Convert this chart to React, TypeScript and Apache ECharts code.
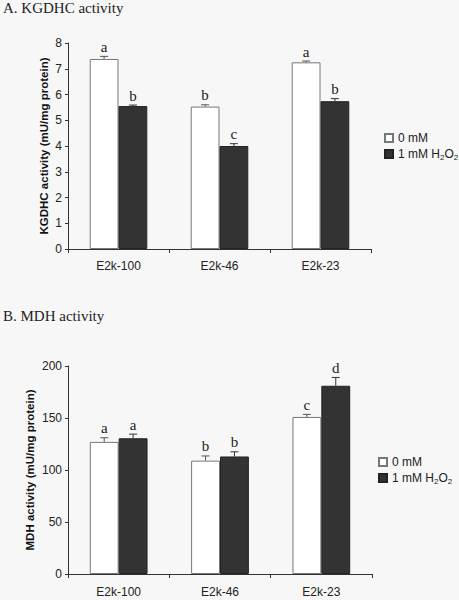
import React, { useEffect, useRef } from "react";
import * as echarts from "echarts";

const categories = ["E2k-100", "E2k-46", "E2k-23"];
const kgdhc0 = [7.38, 5.53, 7.25];
const kgdhc0Err = [0.1, 0.07, 0.05];
const kgdhc0Letters = ["a", "b", "a"];
const kgdhc1 = [5.55, 4.0, 5.74];
const kgdhc1Err = [0.04, 0.09, 0.1];
const kgdhc1Letters = ["b", "c", "b"];
const mdh0 = [127, 109, 151];
const mdh0Err = [4, 4.5, 2.5];
const mdh0Letters = ["a", "b", "c"];
const mdh1 = [130.5, 113, 181];
const mdh1Err = [4, 4.5, 8];
const mdh1Letters = ["a", "b", "d"];
const yTicksA = { min: 0, max: 8, interval: 1 };
const yTicksB = { min: 0, max: 200, interval: 50 };

const SANS = 'Arial, "Liberation Sans", sans-serif';
const SERIF = '"Times New Roman", "Liberation Serif", serif';
const GAP = 0.43;
const NAME0 = "0 mM";
const NAME1 = "1 mM H2O2";

function errSeries(values: number[], errs: number[], letters: string[], side: number, axis: number, color: string) {
  return {
    type: "custom",
    name: "err" + axis + side,
    xAxisIndex: axis,
    yAxisIndex: axis,
    z: 5,
    silent: true,
    data: values.map((v, i) => [i, v, v + errs[i]]),
    encode: { x: 0, y: 1 },
    renderItem: (params: any, api: any) => {
      const i = api.value(0);
      const band = api.size([1, 0])[0];
      const bw = (band * (1 - GAP)) / 2;
      const base = api.coord([i, api.value(1)]);
      const top = api.coord([i, api.value(2)]);
      const x = base[0] + side * bw / 2;
      return {
        type: "group",
        children: [
          { type: "line", shape: { x1: x, y1: base[1], x2: x, y2: top[1] }, style: { stroke: color, lineWidth: 1 } },
          { type: "line", shape: { x1: x - 4, y1: top[1], x2: x + 4, y2: top[1] }, style: { stroke: color, lineWidth: 1 } },
          {
            type: "text",
            x: x,
            y: top[1] - 2,
            style: { text: letters[params.dataIndex], fill: "#222", font: `15px ${SERIF}`, align: "center", verticalAlign: "bottom" },
          },
        ],
      };
    },
  };
}

export default function App() {
  const ref = useRef<HTMLDivElement>(null);
  useEffect(() => {
    if (!ref.current) return;
    const chart = echarts.init(ref.current, null, { renderer: "svg" });
    const axisLine = { lineStyle: { color: "#333", width: 1 } };
    const legendText = {
      fontFamily: SANS,
      fontSize: 12,
      color: "#222",
      rich: { sub: { fontSize: 8, fontFamily: SANS, color: "#222", padding: [6, 0, 0, 0] } },
    };
    const legendFormatter = (n: string) => (n === NAME1 ? "1 mM H{sub|2}O{sub|2}" : n);
    const xAxisBase = (gi: number, margin: number) => ({
      type: "category",
      gridIndex: gi,
      data: categories,
      axisLine,
      axisTick: { show: true, length: 4, lineStyle: { color: "#333" } },
      axisLabel: { color: "#222", fontFamily: SANS, fontSize: 12, margin },
    });
    const yAxisBase = (gi: number, t: any, name: string, gap: number) => ({
      type: "value",
      gridIndex: gi,
      min: t.min,
      max: t.max,
      interval: t.interval,
      splitLine: { show: false },
      axisLine: { show: true, ...axisLine },
      axisTick: { show: true, length: 3, lineStyle: { color: "#333" } },
      axisLabel: { color: "#222", fontFamily: SANS, fontSize: 12, margin: 6 },
      name,
      nameLocation: "middle",
      nameGap: gap,
      nameMoveOverlap: false,
      nameTextStyle: { fontFamily: SANS, fontSize: 11.5, fontWeight: "bold", color: "#111" },
    });
    const barWhite = { color: "#ffffff", borderColor: "#777", borderWidth: 1 };
    const barDark = { color: "#333333", borderColor: "#222", borderWidth: 1 };
    chart.setOption({
      animation: false,
      backgroundColor: "#f7f7f7",
      title: [
        { text: "A. KGDHC activity", left: 3, top: 0, padding: 0, textStyle: { fontFamily: SERIF, fontSize: 15, fontWeight: "normal", color: "#222" } },
        { text: "B. MDH activity", left: 3, top: 308, padding: 0, textStyle: { fontFamily: SERIF, fontSize: 15, fontWeight: "normal", color: "#222" } },
      ],
      legend: [
        {
          data: [NAME0, NAME1], orient: "vertical", left: 384, top: 132, padding: 0, itemGap: 4,
          icon: "rect", itemWidth: 8, itemHeight: 8, textStyle: legendText, formatter: legendFormatter, selectedMode: false,
        },
        {
          data: [NAME0, NAME1], orient: "vertical", left: 378, top: 456, padding: 0, itemGap: 4,
          icon: "rect", itemWidth: 8, itemHeight: 8, textStyle: legendText, formatter: legendFormatter, selectedMode: false,
        },
      ],
      grid: [
        { left: 68, right: 88, top: 43, height: 206 },
        { left: 68, right: 87, top: 366, height: 208 },
      ],
      xAxis: [xAxisBase(0, 11), xAxisBase(1, 12)],
      yAxis: [
        yAxisBase(0, yTicksA, "KGDHC activity (mU/mg protein)", 18),
        yAxisBase(1, yTicksB, "MDH activity (mU/mg protein)", 32),
      ],
      series: [
        { type: "bar", name: NAME0, xAxisIndex: 0, yAxisIndex: 0, data: kgdhc0, itemStyle: barWhite, barGap: "0%", barCategoryGap: "43%" },
        { type: "bar", name: NAME1, xAxisIndex: 0, yAxisIndex: 0, data: kgdhc1, itemStyle: barDark, barGap: "0%", barCategoryGap: "43%" },
        { type: "bar", name: NAME0, xAxisIndex: 1, yAxisIndex: 1, data: mdh0, itemStyle: barWhite, barGap: "0%", barCategoryGap: "43%" },
        { type: "bar", name: NAME1, xAxisIndex: 1, yAxisIndex: 1, data: mdh1, itemStyle: barDark, barGap: "0%", barCategoryGap: "43%" },
        errSeries(kgdhc0, kgdhc0Err, kgdhc0Letters, -1, 0, "#555"),
        errSeries(kgdhc1, kgdhc1Err, kgdhc1Letters, 1, 0, "#333"),
        errSeries(mdh0, mdh0Err, mdh0Letters, -1, 1, "#555"),
        errSeries(mdh1, mdh1Err, mdh1Letters, 1, 1, "#333"),
      ],
    } as any);
    return () => chart.dispose();
  }, []);
  return <div ref={ref} style={{ position: "absolute", left: 0, top: 0, width: 459, height: 600 }} />;
}
